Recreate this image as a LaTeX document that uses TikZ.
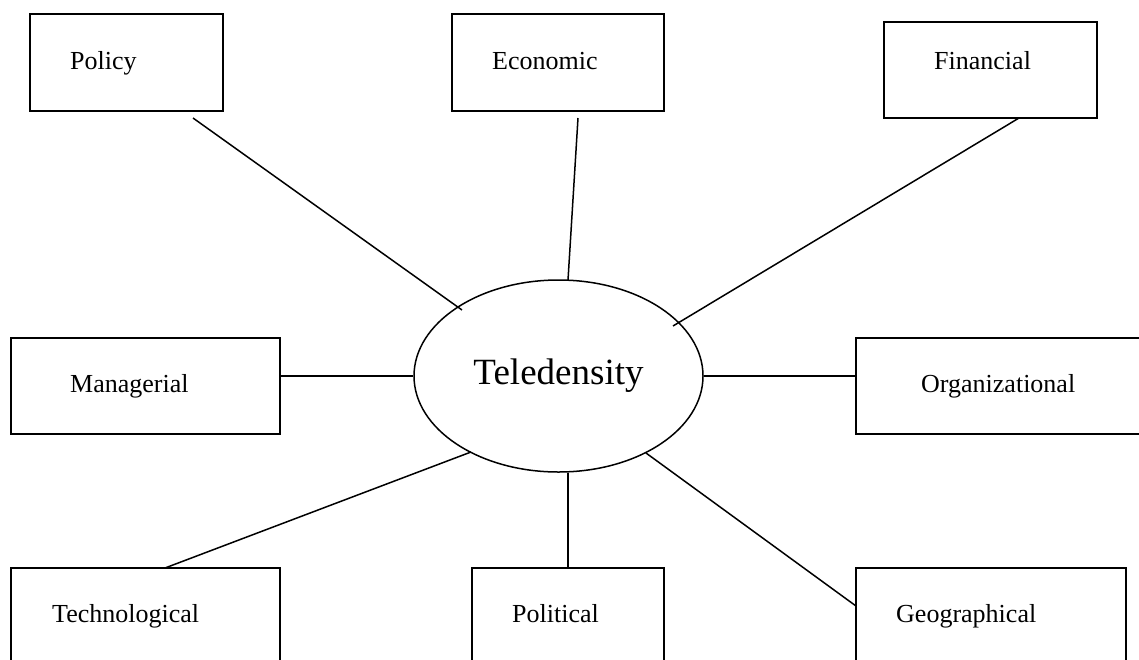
\documentclass[tikz,border=0pt]{standalone}
\usepackage{fontspec}
\setmainfont{Liberation Serif}
\usetikzlibrary{shapes.geometric}
\begin{document}
\begin{tikzpicture}[x=1pt,y=-1pt,
  box/.style={draw, line width=1.8pt, rectangle, inner sep=0pt},
  lbl/.style={inner sep=0pt, anchor=base west, font=\fontsize{26}{30}\selectfont},
  conn/.style={line width=1.5pt},
  hub/.style={draw, ellipse, line width=1.5pt, inner sep=0pt, minimum width=289pt, minimum height=192pt, font=\fontsize{37}{42}\selectfont}]
\useasboundingbox (0,0) rectangle (1139,659);
\clip (0,0) rectangle (1139,659);
% boxes
\node[box, minimum width=193pt, minimum height=97pt] (policy) at (126.5,62.5) {};
\node[box, minimum width=212pt, minimum height=97pt] (econ) at (558,62.5) {};
\node[box, minimum width=213pt, minimum height=96pt] (fin) at (990.5,70) {};
\node[box, minimum width=269pt, minimum height=96pt] (mgr) at (145.5,386) {};
\node[box, minimum width=304pt, minimum height=96pt] (org) at (1008,386) {};
\node[box, minimum width=269pt, minimum height=96pt] (tech) at (145.5,616) {};
\node[box, minimum width=192pt, minimum height=96pt] (pol) at (568,616) {};
\node[box, minimum width=270pt, minimum height=96pt] (geo) at (991,616) {};
% labels
\node[lbl] (policyt) at (70,69) {Policy};
\node[lbl] (econt) at (492,69) {Economic};
\node[lbl] (fint) at (934,69) {Financial};
\node[lbl] (mgrt) at (70,392) {Managerial};
\node[lbl] (orgt) at (921,392) {Organizational};
\node[lbl] (techt) at (52,622) {Technological};
\node[lbl] (polt) at (512,622) {Political};
\node[lbl] (geot) at (896,622) {Geographical};
% hub
\node[hub] (tel) at (558.5,376) {Teledensity};
% connector ends
\coordinate (pa) at (193,118);
\coordinate (pb) at (462,310);
\coordinate (ea) at (578,118);
\coordinate (eb) at (568,280);
\coordinate (fa) at (1019,118);
\coordinate (fb) at (673,326);
\coordinate (ta) at (165,568);
\coordinate (tb) at (471,452);
\coordinate (ga) at (646,453);
\coordinate (gb) at (856,606);
% connectors
\draw[conn] (pa) -- (pb);
\draw[conn] (ea) -- (eb);
\draw[conn] (fa) -- (fb);
\draw[conn] (mgr.east |- tel.west) -- (tel.west);
\draw[conn] (tel.east) -- (org.west |- tel.east);
\draw[conn] (ta) -- (tb);
\draw[conn] (pol.north) -- (pol.north |- tel.south);
\draw[conn] (ga) -- (gb);
\end{tikzpicture}
\end{document}
